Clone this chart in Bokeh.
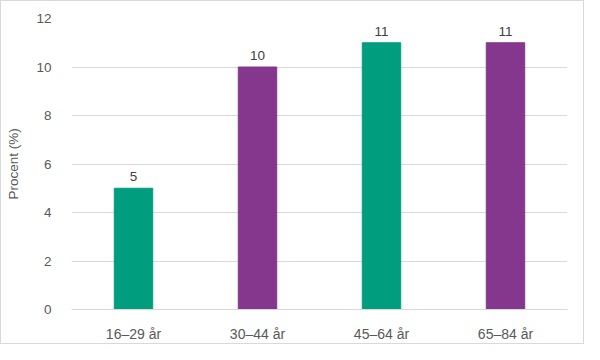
from bokeh.plotting import figure
from bokeh.models import ColumnDataSource, FixedTicker, LabelSet
from bokeh.core.properties import value
from bokeh.embed import file_html
from bokeh.resources import INLINE

categories = ["16–29 år", "30–44 år", "45–64 år", "65–84 år"]
values = [5, 10, 11, 11]
colors = ["#009E7E", "#84378D", "#009E7E", "#84378D"]
y_ticks = [0, 2, 4, 6, 8, 10, 12]

src = ColumnDataSource(dict(cat=categories, val=values, col=colors,
                            lab=[str(v) for v in values]))

p = figure(x_range=categories, y_range=(0, 12), width=584, height=344,
           output_backend="svg", toolbar_location=None,
           min_border_left=70, min_border_right=18, min_border_top=17, min_border_bottom=36)
p.x_range.range_padding = 0
p.vbar(x="cat", top="val", width=0.31, color="col", source=src)

labels = LabelSet(x="cat", y="val", text="lab", source=src, text_align="center",
                  text_baseline="bottom", y_offset=7, text_font_size="13.5px",
                  text_color="#404040", text_font=value("Liberation Sans"))
p.add_layout(labels)

p.outline_line_color = None
p.xgrid.grid_line_color = None
p.ygrid.grid_line_color = "#d9d9d9"
p.yaxis.ticker = FixedTicker(ticks=y_ticks)
p.yaxis.axis_line_color = None
p.yaxis.major_tick_line_color = None
p.yaxis.minor_tick_line_color = None
p.yaxis.major_label_standoff = 14
p.yaxis.axis_label = "Procent (%)"
p.yaxis.axis_label_text_font_style = "normal"
p.yaxis.axis_label_text_font_size = "13.5px"
p.yaxis.axis_label_text_color = "#595959"
p.yaxis.axis_label_text_font = "Liberation Sans"
p.yaxis.axis_label_standoff = 12

p.xaxis.axis_line_color = "#d9d9d9"
p.xaxis.major_tick_line_color = None
p.xaxis.minor_tick_line_color = None
p.xaxis.major_label_standoff = 10

p.yaxis.major_label_text_font_size = "13.5px"
p.xaxis.major_label_text_font_size = "14px"
for ax in (p.xaxis, p.yaxis):
    ax.major_label_text_color = "#595959"
    ax.major_label_text_font = "Liberation Sans"

p.styles = {"border": "1px solid #d9d9d9"}

open("out.html", "w").write(file_html(p, INLINE))
